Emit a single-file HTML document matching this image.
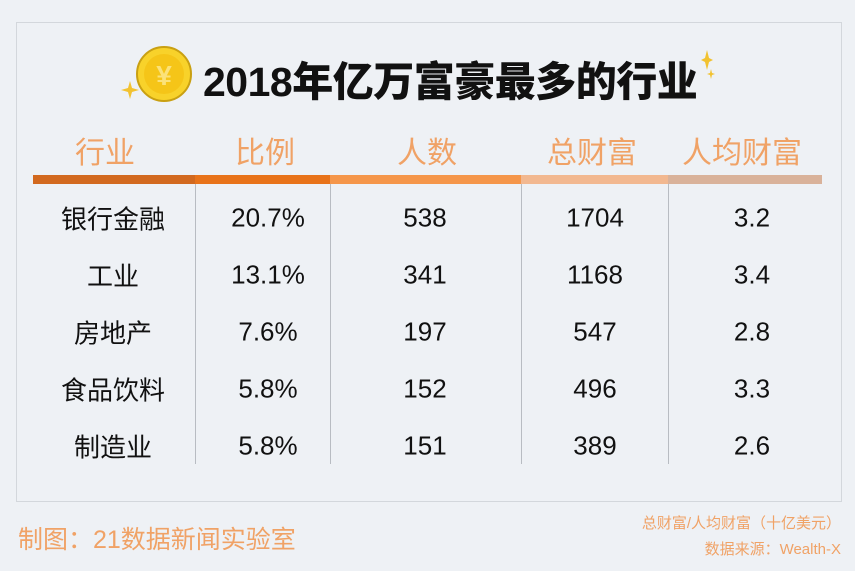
<!DOCTYPE html>
<html><head><meta charset="utf-8"><style>
body{margin:0;width:855px;height:571px;background:#eef1f5;position:relative;overflow:hidden;font-family:"Liberation Sans","Noto Sans CJK SC",sans-serif}
.abs{position:absolute}
.panel{left:16px;top:22px;width:826px;height:480px;border:1.5px solid #d3d7dc;box-sizing:border-box}
.h{top:128px;font-size:30px;color:#f0a266;transform:translateX(-50%);white-space:nowrap}
.c{font-size:26px;color:#111;transform:translate(-50%,-50%);white-space:nowrap}
.v{width:1px;background:#b8bcc2;top:184px;height:280px}
</style></head><body>
<div class="abs panel"></div>
<svg class="abs" style="left:120px;top:40px" width="600" height="70">
<circle cx="44" cy="34" r="27" fill="#f8d22a" stroke="#c9a012" stroke-width="2"/>
<circle cx="44" cy="34" r="20" fill="#f5c518"/>
<text x="44" y="45" font-size="28" font-weight="bold" fill="#fbe27a" text-anchor="middle" font-family="Liberation Sans">¥</text>
<path d="M10 41 L12 48 L19 50 L12 52 L10 59 L8 52 L1 50 L8 48Z" fill="#f2c230"/>
<path d="M587 10 L589 18 L593 20 L589 22 L587 30 L585 22 L581 20 L585 18Z" fill="#f2c230"/>
<path d="M591 29 L592 33 L595 34 L592 35 L591 39 L590 35 L587 34 L590 33Z" fill="#f2c230"/>
</svg>
<div class="abs" style="left:203px;top:48px;font-size:41px;font-weight:900;color:#111;letter-spacing:-0.5px">2018年亿万富豪最多的行业</div>
<div class="abs h" style="left:105px">行业</div>
<div class="abs h" style="left:265px">比例</div>
<div class="abs h" style="left:427px">人数</div>
<div class="abs h" style="left:592px">总财富</div>
<div class="abs h" style="left:742px">人均财富</div>
<div class="abs" style="left:33px;top:175px;width:162px;height:9px;background:#d2691f"></div>
<div class="abs" style="left:195px;top:175px;width:135px;height:9px;background:#e8731a"></div>
<div class="abs" style="left:330px;top:175px;width:191px;height:9px;background:#f5964a"></div>
<div class="abs" style="left:521px;top:175px;width:147px;height:9px;background:#f2b890"></div>
<div class="abs" style="left:668px;top:175px;width:154px;height:9px;background:#d9b29a"></div>
<div class="abs v" style="left:195px"></div>
<div class="abs v" style="left:330px"></div>
<div class="abs v" style="left:521px"></div>
<div class="abs v" style="left:668px"></div>
<div id="rows"></div>
<div class="abs" style="left:18px;top:520px;font-size:25px;color:#f0a266">制图：21数据新闻实验室</div>
<div class="abs" style="right:14px;top:511px;font-size:15px;color:#f0a266;text-align:right;line-height:26px">总财富/人均财富（十亿美元）<br>数据来源：Wealth-X</div>
<script>
const industries=["银行金融","工业","房地产","食品饮料","制造业"];
const ratios=["20.7%","13.1%","7.6%","5.8%","5.8%"];
const counts=[538,341,197,152,151];
const totals=[1704,1168,547,496,389];
const avgs=["3.2","3.4","2.8","3.3","2.6"];
const colX=[113,268,425,595,752];
const rows=document.getElementById('rows');
industries.forEach((ind,i)=>{
  const vals=[ind,ratios[i],counts[i],totals[i],avgs[i]];
  vals.forEach((v,j)=>{
    const d=document.createElement('div');
    d.className='abs c';
    d.style.left=colX[j]+'px';
    d.style.top=(218+i*57)+'px';
    d.textContent=v;
    
    
    rows.appendChild(d);
  });
});
</script>
</body></html>
